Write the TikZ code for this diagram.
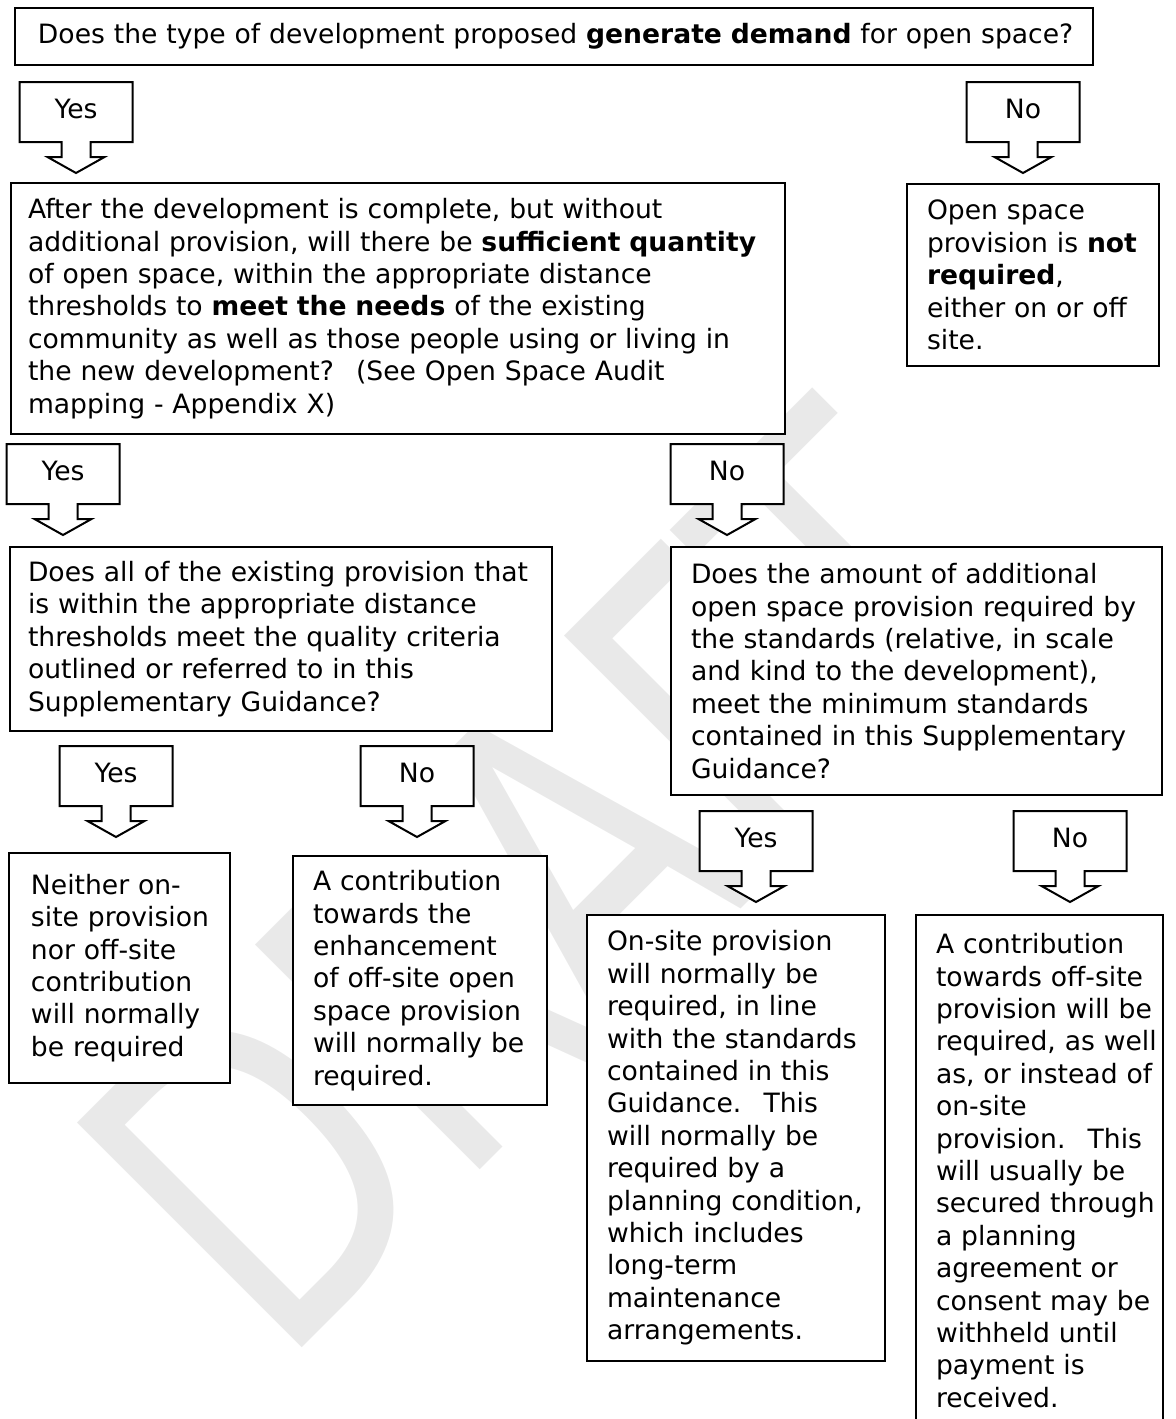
\documentclass[tikz,border=0pt]{standalone}
\usepackage{fontspec}
\setmainfont{DejaVu Sans}
\usetikzlibrary{positioning}

\begin{document}
\begin{tikzpicture}[
        x=0.5pt, y=-0.5pt,
        box/.style={draw, line width=1pt, fill=white, anchor=north west, align=left, inner xsep=10pt, inner ysep=6pt,
                execute at begin node={\rightskip=-12pt plus 1fil\relax}},
        callout/.style={draw, line width=1pt, fill=white},
        choice/.style={inner sep=0pt},
        font=\fontsize{13.3}{16.2}\selectfont
    ]
    \useasboundingbox (0,0) rectangle (1176,1419);

    % Watermark
    \node[text=gray!17, font=\fontsize{218}{218}\selectfont, inner sep=0pt, anchor=base west,
        rotate=45, xscale=0.75, transform shape] (draft) at (279,1371) {DRAFT};

    % Questions
    \node[box, inner xsep=11.5pt, text width=516pt, minimum height=28.5pt] (q1) at (14,7) {Does the type of development proposed \textbf{generate demand} for open space?};
    \node[box, inner xsep=8.5pt, text width=370pt, minimum height=125.5pt] (q2) at (10,182) {After the development is complete, but without\\additional provision, will there be \textbf{sufficient quantity}\\of open space, within the appropriate distance\\thresholds to \textbf{meet the needs} of the existing\\community as well as those people using or living in\\the new development?~ (See Open Space Audit\\mapping - Appendix X)};
    \node[box, text width=106pt, minimum height=91pt] (notreq) at (906,183) {Open space\\provision is \textbf{not}\\\textbf{required},\\either on or off\\site.};
    \node[box, inner xsep=9pt, text width=253pt, minimum height=92pt] (q3a) at (9,546) {Does all of the existing provision that\\is within the appropriate distance\\thresholds meet the quality criteria\\outlined or referred to in this\\Supplementary Guidance?};
    \node[box, text width=225.5pt, minimum height=124pt] (q3b) at (670,546) {Does the amount of additional\\open space provision required by\\the standards (relative, in scale\\and kind to the development),\\meet the minimum standards\\contained in this Supplementary\\Guidance?};

    % Outcomes
    \node[box, inner xsep=11pt, text width=88.5pt, minimum height=115pt] (o4a) at (8,852) {Neither on-\\site provision\\nor off-site\\contribution\\will normally\\be required};
    \node[box, text width=107pt, minimum height=124.5pt] (o4b) at (292,855) {A contribution\\towards the\\enhancement\\of off-site open\\space provision\\will normally be\\required.};
    \node[box, text width=129pt, minimum height=223pt] (o5a) at (586,914) {On-site provision\\will normally be\\required, in line\\with the standards\\contained in this\\Guidance.~ This\\will normally be\\required by a\\planning condition,\\which includes\\long-term\\maintenance\\arrangements.};
    \node[box, text width=103.5pt, minimum height=255.5pt] (o5b) at (915,914) {A contribution\\towards off-site\\provision will be\\required, as well\\as, or instead of\\on-site\\provision.~ This\\will usually be\\secured through\\a planning\\agreement or\\consent may be\\withheld until\\payment is\\received.};

    % Yes / No block arrows
    \foreach \n/\cx/\ty/\lbl in {yes1/76/82/Yes, no1/1023/82/No, yes2/63/444/Yes, no2/727/444/No,
                                 yes3/116/746/Yes, no3/417/746/No, yes4/756/811/Yes, no4/1070/811/No} {
            \draw[callout] (\cx-14.5,\ty+60) -- ++(-42,0) -- ++(0,-60) -- ++(113,0) -- ++(0,60) -- ++(-42,0)
                -- ++(0,15) -- ++(14,0) -- ++(-28.5,16) -- ++(-28.5,-16) -- ++(14,0) -- cycle;
            \node[choice] (\n) at (\cx,\ty+27) {\lbl};
        }

\end{tikzpicture}
\end{document}
